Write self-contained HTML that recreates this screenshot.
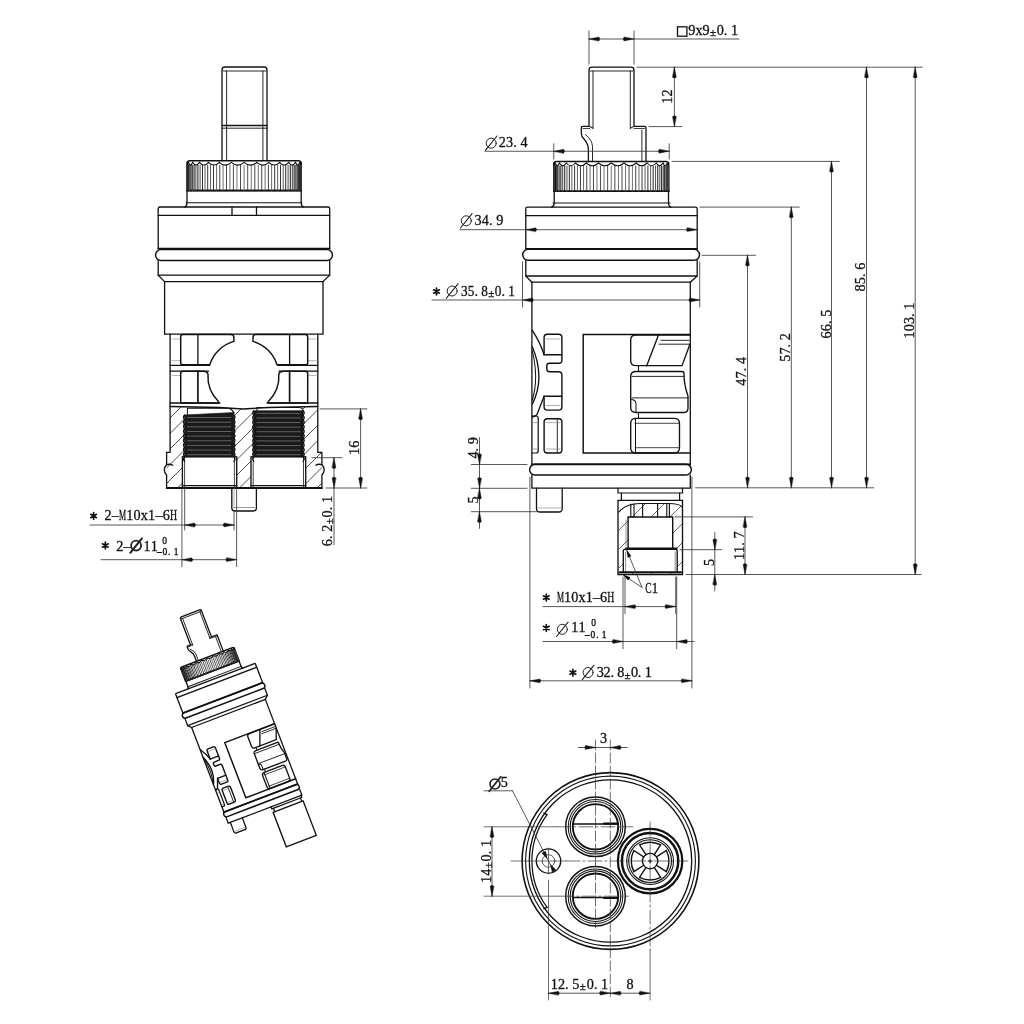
<!DOCTYPE html>
<html><head><meta charset="utf-8"><style>
html,body{margin:0;padding:0;background:#fff;}
svg{display:block;font-family:"Liberation Serif",serif;will-change:transform;}
#rv *,#spg *{vector-effect:non-scaling-stroke;}
</style></head><body>
<svg width="1024" height="1024" viewBox="0 0 1024 1024" fill="none" stroke="#111" stroke-width="1.3" stroke-linecap="round">
<rect x="0" y="0" width="1024" height="1024" fill="#fff" stroke="none"/>
<g id="lv">
<path d="M222 160V70Q222 67 225 67H264Q267 67 267 70V160"/>
<line x1="226.6" y1="71" x2="226.6" y2="160" stroke-width="0.9"/>
<line x1="262.9" y1="71" x2="262.9" y2="160" stroke-width="0.9"/>
<line x1="223" y1="71" x2="266" y2="71" stroke-width="0.9"/>
<line x1="222" y1="125.6" x2="267" y2="125.6" stroke-width="1.46"/>
<line x1="222" y1="128.2" x2="267" y2="128.2" stroke-width="0.9"/>
<path d="M187 190.6V163.8Q187 160.8 190 160.8H298.2Q301.2 160.8 301.2 163.8V190.6Z" stroke-width="1.46"/>
<line x1="187" y1="190.6" x2="301.2" y2="190.6" stroke-width="1.68"/>
<line x1="187.11" y1="165.3" x2="187.11" y2="190.6" stroke-width="1.22" stroke="#444"/>
<line x1="187.45" y1="165.3" x2="187.45" y2="190.6" stroke-width="1.19" stroke="#111"/>
<line x1="188.01" y1="165.3" x2="188.01" y2="190.6" stroke-width="1.16" stroke="#444"/>
<line x1="188.79" y1="165.3" x2="188.79" y2="190.6" stroke-width="1.13" stroke="#111"/>
<line x1="189.79" y1="165.3" x2="189.79" y2="190.6" stroke-width="1.1" stroke="#444"/>
<line x1="191.01" y1="165.3" x2="191.01" y2="190.6" stroke-width="1.07" stroke="#111"/>
<line x1="192.43" y1="165.3" x2="192.43" y2="190.6" stroke-width="1.04" stroke="#444"/>
<line x1="194.06" y1="165.3" x2="194.06" y2="190.6" stroke-width="1.01" stroke="#111"/>
<line x1="195.89" y1="165.3" x2="195.89" y2="190.6" stroke-width="0.98" stroke="#444"/>
<line x1="197.91" y1="165.3" x2="197.91" y2="190.6" stroke-width="0.96" stroke="#111"/>
<line x1="200.1" y1="165.3" x2="200.1" y2="190.6" stroke-width="0.93" stroke="#444"/>
<line x1="202.48" y1="165.3" x2="202.48" y2="190.6" stroke-width="0.91" stroke="#111"/>
<line x1="205.01" y1="165.3" x2="205.01" y2="190.6" stroke-width="0.89" stroke="#444"/>
<line x1="207.7" y1="165.3" x2="207.7" y2="190.6" stroke-width="0.86" stroke="#111"/>
<line x1="210.54" y1="165.3" x2="210.54" y2="190.6" stroke-width="0.85" stroke="#444"/>
<line x1="213.5" y1="165.3" x2="213.5" y2="190.6" stroke-width="0.83" stroke="#111"/>
<line x1="216.59" y1="165.3" x2="216.59" y2="190.6" stroke-width="0.81" stroke="#444"/>
<line x1="219.79" y1="165.3" x2="219.79" y2="190.6" stroke-width="0.8" stroke="#111"/>
<line x1="223.08" y1="165.3" x2="223.08" y2="190.6" stroke-width="0.79" stroke="#444"/>
<line x1="226.46" y1="165.3" x2="226.46" y2="190.6" stroke-width="0.77" stroke="#111"/>
<line x1="229.9" y1="165.3" x2="229.9" y2="190.6" stroke-width="0.77" stroke="#444"/>
<line x1="233.4" y1="165.3" x2="233.4" y2="190.6" stroke-width="0.76" stroke="#111"/>
<line x1="236.94" y1="165.3" x2="236.94" y2="190.6" stroke-width="0.75" stroke="#444"/>
<line x1="240.51" y1="165.3" x2="240.51" y2="190.6" stroke-width="0.75" stroke="#111"/>
<line x1="244.1" y1="165.3" x2="244.1" y2="190.6" stroke-width="0.75" stroke="#444"/>
<line x1="247.69" y1="165.3" x2="247.69" y2="190.6" stroke-width="0.75" stroke="#111"/>
<line x1="251.26" y1="165.3" x2="251.26" y2="190.6" stroke-width="0.75" stroke="#444"/>
<line x1="254.8" y1="165.3" x2="254.8" y2="190.6" stroke-width="0.76" stroke="#111"/>
<line x1="258.3" y1="165.3" x2="258.3" y2="190.6" stroke-width="0.77" stroke="#444"/>
<line x1="261.74" y1="165.3" x2="261.74" y2="190.6" stroke-width="0.77" stroke="#111"/>
<line x1="265.12" y1="165.3" x2="265.12" y2="190.6" stroke-width="0.79" stroke="#444"/>
<line x1="268.41" y1="165.3" x2="268.41" y2="190.6" stroke-width="0.8" stroke="#111"/>
<line x1="271.61" y1="165.3" x2="271.61" y2="190.6" stroke-width="0.81" stroke="#444"/>
<line x1="274.7" y1="165.3" x2="274.7" y2="190.6" stroke-width="0.83" stroke="#111"/>
<line x1="277.66" y1="165.3" x2="277.66" y2="190.6" stroke-width="0.85" stroke="#444"/>
<line x1="280.5" y1="165.3" x2="280.5" y2="190.6" stroke-width="0.86" stroke="#111"/>
<line x1="283.19" y1="165.3" x2="283.19" y2="190.6" stroke-width="0.89" stroke="#444"/>
<line x1="285.72" y1="165.3" x2="285.72" y2="190.6" stroke-width="0.91" stroke="#111"/>
<line x1="288.1" y1="165.3" x2="288.1" y2="190.6" stroke-width="0.93" stroke="#444"/>
<line x1="290.29" y1="165.3" x2="290.29" y2="190.6" stroke-width="0.96" stroke="#111"/>
<line x1="292.31" y1="165.3" x2="292.31" y2="190.6" stroke-width="0.98" stroke="#444"/>
<line x1="294.14" y1="165.3" x2="294.14" y2="190.6" stroke-width="1.01" stroke="#111"/>
<line x1="295.77" y1="165.3" x2="295.77" y2="190.6" stroke-width="1.04" stroke="#444"/>
<line x1="297.19" y1="165.3" x2="297.19" y2="190.6" stroke-width="1.07" stroke="#111"/>
<line x1="298.41" y1="165.3" x2="298.41" y2="190.6" stroke-width="1.1" stroke="#444"/>
<line x1="299.41" y1="165.3" x2="299.41" y2="190.6" stroke-width="1.13" stroke="#111"/>
<line x1="300.19" y1="165.3" x2="300.19" y2="190.6" stroke-width="1.16" stroke="#444"/>
<line x1="300.75" y1="165.3" x2="300.75" y2="190.6" stroke-width="1.19" stroke="#111"/>
<line x1="301.09" y1="165.3" x2="301.09" y2="190.6" stroke-width="1.22" stroke="#444"/>
<path d="M187 162.3Q187.72 167.8 188.43 162.3Q190.54 167.8 192.65 162.3Q196.06 167.8 199.46 162.3Q203.98 167.8 208.5 162.3Q213.91 167.8 219.33 162.3Q225.36 167.8 231.39 162.3Q237.75 167.8 244.1 162.3Q250.45 167.8 256.81 162.3Q262.84 167.8 268.87 162.3Q274.29 167.8 279.7 162.3Q284.22 167.8 288.74 162.3Q292.14 167.8 295.55 162.3Q297.66 167.8 299.77 162.3Q300.48 167.8 301.2 162.3" stroke-width="1.12"/>
<path d="M187 190.6V202.5Q187 206.2 184.8 207M301.2 190.6V202.5Q301.2 206.2 303.4 207"/>
<line x1="186" y1="202.7" x2="302" y2="202.7" stroke-width="1.01"/>
<path d="M158.2 248.5V208.5Q158.2 207 160 207H328Q329.7 207 329.7 208.5V248.5"/>
<line x1="158.2" y1="215.4" x2="329.7" y2="215.4"/>
<line x1="232" y1="207" x2="232" y2="215.4"/>
<line x1="256.5" y1="207" x2="256.5" y2="215.4"/>
<line x1="158.2" y1="248.5" x2="329.7" y2="248.5" stroke-width="1.68"/>
<path d="M161 249.6H327A5.45 5.45 0 0 1 327 260.5H161A5.45 5.45 0 0 1 161 249.6Z" stroke-width="1.46"/>
<path d="M158.2 260.5V275.2L164.6 281.6M329.7 260.5V275.2L322.9 281.6"/>
<line x1="158.2" y1="275.2" x2="329.7" y2="275.2"/>
<line x1="164.6" y1="281.6" x2="322.9" y2="281.6"/>
<path d="M164.6 281.6V334.1H323V281.6"/>
<line x1="170.1" y1="334.1" x2="170.1" y2="406.5"/>
<line x1="317.8" y1="334.1" x2="317.8" y2="406.5"/>
<line x1="170.1" y1="365.3" x2="209.5" y2="365.3"/>
<line x1="170.1" y1="371.2" x2="208.5" y2="371.2"/>
<line x1="278" y1="365.3" x2="317.8" y2="365.3"/>
<line x1="279" y1="371.2" x2="317.8" y2="371.2"/>
<line x1="172" y1="339" x2="180" y2="339" stroke-width="0.56" stroke="#777"/>
<line x1="172" y1="360.7" x2="180" y2="360.7" stroke-width="0.56" stroke="#777"/>
<line x1="172" y1="375.6" x2="180" y2="375.6" stroke-width="0.56" stroke="#777"/>
<line x1="308" y1="339" x2="316" y2="339" stroke-width="0.56" stroke="#777"/>
<line x1="308" y1="360.7" x2="316" y2="360.7" stroke-width="0.56" stroke="#777"/>
<line x1="308" y1="375.6" x2="316" y2="375.6" stroke-width="0.56" stroke="#777"/>
<path d="M180.7 363V337Q180.7 334.6 183 334.6H231Q233.9 334.6 233.9 337.5V341.4 A35.5 35.5 0 0 0 209.78 364.8 H183Q180.7 364.8 180.7 363Z" stroke-width="1.46"/>
<path d="M307.7 363V337Q307.7 334.6 305.4 334.6H255.8Q253 334.6 253 337.5V341.4 A35.5 35.5 0 0 1 277.02 364.8 H305.4Q307.7 364.8 307.7 363Z" stroke-width="1.46"/>
<path d="M180.7 373.5Q180.7 371.2 183 371.2H203Q206.97 371.2 207.97 374 A35.5 35.5 0 0 0 218.5 401.5 V403H180.7Z" stroke-width="1.46"/>
<path d="M307.7 373.5Q307.7 371.2 305.4 371.2H283.83 Q279.83 371.2 278.83 374 A35.5 35.5 0 0 1 268.3 401.5 V403H307.7Z" stroke-width="1.46"/>
<line x1="197.9" y1="334.6" x2="197.9" y2="364.8"/>
<line x1="197.9" y1="371.2" x2="197.9" y2="403" stroke-width="1.68"/>
<line x1="289.6" y1="334.6" x2="289.6" y2="364.8"/>
<line x1="289.6" y1="371.2" x2="289.6" y2="403" stroke-width="1.68"/>
<line x1="170.1" y1="403" x2="220" y2="403"/>
<line x1="267" y1="403" x2="317.8" y2="403"/>
<path d="M170.1 406.5L219 407.5L243.4 409L268 407.5L317.8 406.5"/>
<path d="M170.1 406.5V452.3H166.6V464.7A6.8 6.8 0 0 0 166.6 474.9V488H321.9V474.9A6.8 6.8 0 0 0 321.9 464.7V452.3H317.8V406.5"/>
<path d="M166.6 464.7Q170 463.5 172.7 465.2" stroke-width="1.34"/>
<path d="M321.9 464.7Q318.5 463.5 315.8 465.2" stroke-width="1.34"/>
<clipPath id="lvh"><path d="M170.1 406.5L219 407.5L243.4 409L268 407.5L317.8 406.5V452.3H321.9V488H166.6V452.3H170.1Z M184.6 415.7V456.8H182.4V488H236.7V456.8H233.9V408.2H184.6Z M253.8 410.8V456.8H251V488H305.7V456.8H303.1V407.5H253.8Z" clip-rule="evenodd"/></clipPath>
<g clip-path="url(#lvh)" stroke-width="0.75">
<line x1="-210" y1="488" x2="-120" y2="398"/>
<line x1="-194.5" y1="488" x2="-104.5" y2="398"/>
<line x1="-179" y1="488" x2="-89" y2="398"/>
<line x1="-163.5" y1="488" x2="-73.5" y2="398"/>
<line x1="-148" y1="488" x2="-58" y2="398"/>
<line x1="-132.5" y1="488" x2="-42.5" y2="398"/>
<line x1="-117" y1="488" x2="-27" y2="398"/>
<line x1="-101.5" y1="488" x2="-11.5" y2="398"/>
<line x1="-86" y1="488" x2="4" y2="398"/>
<line x1="-70.5" y1="488" x2="19.5" y2="398"/>
<line x1="-55" y1="488" x2="35" y2="398"/>
<line x1="-39.5" y1="488" x2="50.5" y2="398"/>
<line x1="-24" y1="488" x2="66" y2="398"/>
<line x1="-8.5" y1="488" x2="81.5" y2="398"/>
<line x1="7" y1="488" x2="97" y2="398"/>
<line x1="22.5" y1="488" x2="112.5" y2="398"/>
<line x1="38" y1="488" x2="128" y2="398"/>
<line x1="53.5" y1="488" x2="143.5" y2="398"/>
<line x1="69" y1="488" x2="159" y2="398"/>
<line x1="84.5" y1="488" x2="174.5" y2="398"/>
<line x1="100" y1="488" x2="190" y2="398"/>
<line x1="115.5" y1="488" x2="205.5" y2="398"/>
<line x1="131" y1="488" x2="221" y2="398"/>
<line x1="146.5" y1="488" x2="236.5" y2="398"/>
<line x1="162" y1="488" x2="252" y2="398"/>
<line x1="177.5" y1="488" x2="267.5" y2="398"/>
<line x1="193" y1="488" x2="283" y2="398"/>
<line x1="208.5" y1="488" x2="298.5" y2="398"/>
<line x1="224" y1="488" x2="314" y2="398"/>
<line x1="239.5" y1="488" x2="329.5" y2="398"/>
<line x1="255" y1="488" x2="345" y2="398"/>
<line x1="270.5" y1="488" x2="360.5" y2="398"/>
<line x1="286" y1="488" x2="376" y2="398"/>
<line x1="301.5" y1="488" x2="391.5" y2="398"/>
<line x1="317" y1="488" x2="407" y2="398"/>
<line x1="332.5" y1="488" x2="422.5" y2="398"/>
<line x1="348" y1="488" x2="438" y2="398"/>
<line x1="363.5" y1="488" x2="453.5" y2="398"/>
<line x1="379" y1="488" x2="469" y2="398"/>
<line x1="394.5" y1="488" x2="484.5" y2="398"/>
<line x1="410" y1="488" x2="500" y2="398"/>
<line x1="425.5" y1="488" x2="515.5" y2="398"/>
<line x1="441" y1="488" x2="531" y2="398"/>
<line x1="456.5" y1="488" x2="546.5" y2="398"/>
<line x1="472" y1="488" x2="562" y2="398"/>
<line x1="487.5" y1="488" x2="577.5" y2="398"/>
<line x1="503" y1="488" x2="593" y2="398"/>
<line x1="518.5" y1="488" x2="608.5" y2="398"/>
<line x1="534" y1="488" x2="624" y2="398"/>
<line x1="549.5" y1="488" x2="639.5" y2="398"/>
</g>
<g>
<path d="M184.6 415L233.9 412.6V456.8H184.6Z" stroke-width="0.67" fill="#1a1a1a"/>
<line x1="187.6" y1="417.55" x2="230.9" y2="417.55" stroke-width="0.78" stroke="#777"/>
<line x1="187.6" y1="422.2" x2="230.9" y2="422.2" stroke-width="0.78" stroke="#777"/>
<line x1="187.6" y1="426.84" x2="230.9" y2="426.84" stroke-width="0.78" stroke="#777"/>
<line x1="187.6" y1="431.49" x2="230.9" y2="431.49" stroke-width="0.78" stroke="#777"/>
<line x1="187.6" y1="436.13" x2="230.9" y2="436.13" stroke-width="0.78" stroke="#777"/>
<line x1="187.6" y1="440.78" x2="230.9" y2="440.78" stroke-width="0.78" stroke="#777"/>
<line x1="187.6" y1="445.42" x2="230.9" y2="445.42" stroke-width="0.78" stroke="#777"/>
<line x1="187.6" y1="450.07" x2="230.9" y2="450.07" stroke-width="0.78" stroke="#777"/>
<line x1="187.6" y1="454.71" x2="230.9" y2="454.71" stroke-width="0.78" stroke="#777"/>
<path d="M184.6 415Q182.4 417.32 184.6 419.64M233.9 415Q236.1 417.32 233.9 419.64M184.6 419.64Q182.4 421.97 184.6 424.29M233.9 419.64Q236.1 421.97 233.9 424.29M184.6 424.29Q182.4 426.61 184.6 428.93M233.9 424.29Q236.1 426.61 233.9 428.93M184.6 428.93Q182.4 431.26 184.6 433.58M233.9 428.93Q236.1 431.26 233.9 433.58M184.6 433.58Q182.4 435.9 184.6 438.22M233.9 433.58Q236.1 435.9 233.9 438.22M184.6 438.22Q182.4 440.54 184.6 442.87M233.9 438.22Q236.1 440.54 233.9 442.87M184.6 442.87Q182.4 445.19 184.6 447.51M233.9 442.87Q236.1 445.19 233.9 447.51M184.6 447.51Q182.4 449.83 184.6 452.16M233.9 447.51Q236.1 449.83 233.9 452.16M184.6 452.16Q182.4 454.48 184.6 456.8M233.9 452.16Q236.1 454.48 233.9 456.8M184.6 456.8Q182.4 459.12 184.6 461.44M233.9 456.8Q236.1 459.12 233.9 461.44" stroke-width="1.23" stroke="#111"/>
</g>
<g>
<path d="M253.8 410.8L303.1 410.8V456.8H253.8Z" stroke-width="0.67" fill="#1a1a1a"/>
<line x1="256.8" y1="413.33" x2="300.1" y2="413.33" stroke-width="0.78" stroke="#777"/>
<line x1="256.8" y1="417.93" x2="300.1" y2="417.93" stroke-width="0.78" stroke="#777"/>
<line x1="256.8" y1="422.53" x2="300.1" y2="422.53" stroke-width="0.78" stroke="#777"/>
<line x1="256.8" y1="427.13" x2="300.1" y2="427.13" stroke-width="0.78" stroke="#777"/>
<line x1="256.8" y1="431.73" x2="300.1" y2="431.73" stroke-width="0.78" stroke="#777"/>
<line x1="256.8" y1="436.33" x2="300.1" y2="436.33" stroke-width="0.78" stroke="#777"/>
<line x1="256.8" y1="440.93" x2="300.1" y2="440.93" stroke-width="0.78" stroke="#777"/>
<line x1="256.8" y1="445.53" x2="300.1" y2="445.53" stroke-width="0.78" stroke="#777"/>
<line x1="256.8" y1="450.13" x2="300.1" y2="450.13" stroke-width="0.78" stroke="#777"/>
<line x1="256.8" y1="454.73" x2="300.1" y2="454.73" stroke-width="0.78" stroke="#777"/>
<path d="M253.8 410.8Q251.6 413.1 253.8 415.4M303.1 410.8Q305.3 413.1 303.1 415.4M253.8 415.4Q251.6 417.7 253.8 420M303.1 415.4Q305.3 417.7 303.1 420M253.8 420Q251.6 422.3 253.8 424.6M303.1 420Q305.3 422.3 303.1 424.6M253.8 424.6Q251.6 426.9 253.8 429.2M303.1 424.6Q305.3 426.9 303.1 429.2M253.8 429.2Q251.6 431.5 253.8 433.8M303.1 429.2Q305.3 431.5 303.1 433.8M253.8 433.8Q251.6 436.1 253.8 438.4M303.1 433.8Q305.3 436.1 303.1 438.4M253.8 438.4Q251.6 440.7 253.8 443M303.1 438.4Q305.3 440.7 303.1 443M253.8 443Q251.6 445.3 253.8 447.6M303.1 443Q305.3 445.3 303.1 447.6M253.8 447.6Q251.6 449.9 253.8 452.2M303.1 447.6Q305.3 449.9 303.1 452.2M253.8 452.2Q251.6 454.5 253.8 456.8M303.1 452.2Q305.3 454.5 303.1 456.8M253.8 456.8Q251.6 459.1 253.8 461.4M303.1 456.8Q305.3 459.1 303.1 461.4" stroke-width="1.23" stroke="#111"/>
</g>
<path d="M187.4 415V408.3H229Q233 410 233.9 413" stroke-width="1.01"/>
<path d="M257 410.8V407.6H299Q303 408 303.1 411" stroke-width="1.01"/>
<rect x="182.4" y="456.8" width="54.3" height="31.2" rx="0" stroke-width="1.34"/>
<line x1="184.6" y1="456.8" x2="184.6" y2="488" stroke-width="0.78"/>
<line x1="234.4" y1="456.8" x2="234.4" y2="488" stroke-width="0.78"/>
<line x1="182.4" y1="485.6" x2="236.7" y2="485.6" stroke-width="1.34"/>
<rect x="251" y="456.8" width="54.7" height="31.2" rx="0" stroke-width="1.34"/>
<line x1="253.2" y1="456.8" x2="253.2" y2="488" stroke-width="0.78"/>
<line x1="303.5" y1="456.8" x2="303.5" y2="488" stroke-width="0.78"/>
<line x1="251" y1="485.6" x2="305.7" y2="485.6" stroke-width="1.34"/>
<line x1="166.6" y1="488" x2="321.9" y2="488" stroke-width="1.79"/>
<path d="M231.8 488V508Q231.8 511 235 511H253.2Q256.4 511 256.4 508V488"/>
<line x1="233.6" y1="507.5" x2="254.6" y2="507.5" stroke-width="0.67" stroke="#666"/>
<line x1="234" y1="488" x2="234" y2="508" stroke-width="0.56" stroke="#777"/>
</g>
<g stroke-width="0.85" stroke="#3a3a3a">
<line x1="320" y1="408.9" x2="366.9" y2="408.9"/>
<line x1="326" y1="488" x2="366.9" y2="488"/>
<line x1="360.6" y1="408.9" x2="360.6" y2="488"/>
<path d="M360.6 408.9L362.5 418.9Q360.6 420.7 358.7 418.9Z" fill="#111" stroke="#111" stroke-width="0.4"/>
<path d="M360.6 488L358.7 478Q360.6 476.2 362.5 478Z" fill="#111" stroke="#111" stroke-width="0.4"/>
<line x1="312" y1="457.7" x2="342" y2="457.7"/>
<line x1="334" y1="457.7" x2="334" y2="544.7"/>
<path d="M334 457.7L335.9 467.7Q334 469.5 332.1 467.7Z" fill="#111" stroke="#111" stroke-width="0.4"/>
<path d="M334 488L332.1 478Q334 476.2 335.9 478Z" fill="#111" stroke="#111" stroke-width="0.4"/>
<line x1="181.9" y1="488" x2="181.9" y2="566.6"/>
<line x1="184.7" y1="488" x2="184.7" y2="530"/>
<line x1="234" y1="511" x2="234" y2="530"/>
<line x1="236.6" y1="488" x2="236.6" y2="566.6"/>
<line x1="90" y1="525" x2="234" y2="525"/>
<path d="M184.7 525L194.7 523.1Q196.5 525 194.7 526.9Z" fill="#111" stroke="#111" stroke-width="0.4"/>
<path d="M234 525L224 526.9Q222.2 525 224 523.1Z" fill="#111" stroke="#111" stroke-width="0.4"/>
<line x1="101" y1="559.7" x2="236.6" y2="559.7"/>
<path d="M181.9 559.7L191.9 557.8Q193.7 559.7 191.9 561.6Z" fill="#111" stroke="#111" stroke-width="0.4"/>
<path d="M236.6 559.7L226.6 561.6Q224.8 559.7 226.6 557.8Z" fill="#111" stroke="#111" stroke-width="0.4"/>
</g>
<g fill="#111" stroke="#111" stroke-width="0.3">
<text x="-7.2 0" y="0" font-size="14.2" transform="translate(358.7 447.8) rotate(-90)">16</text>
<text x="0" y="0" font-size="11.08" transform="translate(331.8 521) rotate(-90) translate(-3.3 1.2)">±</text>
<text x="-25.2 -18 -10.8 3.6 10.8 18" y="0" font-size="14.2" transform="translate(331.8 521) rotate(-90)">6.20.1</text>
<text x="0" y="0" font-size="14.2" transform="translate(119.04 520.3) scale(0.564 1)">M</text>
<text x="0" y="0" font-size="14.2" transform="translate(169.93 520.3) scale(0.695 1)">H</text>
<text x="104.5 111.77 126.31 133.58 140.85 148.12 155.39 162.66" y="520.3" font-size="14.2">2–10x1–6</text>
<text x="116.25 123.45" y="550.8" font-size="14.2">2–</text>
<text x="143.6 150.8" y="550.8" font-size="14.2">11</text>
<text x="162.3" y="543.7" font-size="9.5">0</text>
<text x="156.9 162.5 168.1 173.7" y="554.7" font-size="9.5">–0.1</text>
</g>
<path d="M93.6 512.7L93.6 519.3M90.74 514.35L96.46 517.65M96.46 514.35L90.74 517.65" stroke-width="1.68" stroke="#111"/>
<path d="M105.3 542.2L105.3 548.8M102.44 543.85L108.16 547.15M108.16 543.85L102.44 547.15" stroke-width="1.68" stroke="#111"/>
<circle cx="136.1" cy="545.6" r="5" stroke-width="1.8" stroke="#222"/>
<line x1="130.3" y1="552.8" x2="141.9" y2="538.4" stroke-width="2.02" stroke="#222"/>
<g id="rv">
<path d="M588.4 161.5V150Q588.4 144 584 139Q581.3 136.5 581.3 133V127.5Q581.3 126.4 582.5 126.4H589V70Q589 67.2 592 67.2H631Q634 67.2 634 70V126.4H644.8Q646 126.4 646 127.5V161.5"/>
<path d="M585.4 134.6Q592.5 140 592.5 147V161.5" stroke-width="0.9"/>
<line x1="593" y1="71" x2="593" y2="128.2" stroke-width="0.9"/>
<line x1="630.3" y1="71" x2="630.3" y2="128.2" stroke-width="0.9"/>
<line x1="590" y1="71" x2="633" y2="71" stroke-width="0.9"/>
<line x1="641.9" y1="130" x2="641.9" y2="161.5" stroke-width="0.9"/>
<line x1="583" y1="128.5" x2="589.5" y2="128.5" stroke-width="0.78"/>
<line x1="589.5" y1="126.4" x2="593" y2="128.2" stroke-width="1.01"/>
<line x1="634" y1="128.5" x2="644.5" y2="128.5" stroke-width="0.78"/>
<line x1="630.3" y1="128.2" x2="634" y2="126.4" stroke-width="1.01"/>
<path d="M553.75 191.25V164.5Q553.75 161.5 556.75 161.5H665.75Q668.75 161.5 668.75 164.5V191.25Z" stroke-width="1.46"/>
<line x1="553.75" y1="191.25" x2="668.75" y2="191.25" stroke-width="1.68"/>
<line x1="553.86" y1="166" x2="553.86" y2="191.25" stroke-width="1.22" stroke="#444"/>
<line x1="554.2" y1="166" x2="554.2" y2="191.25" stroke-width="1.19" stroke="#111"/>
<line x1="554.77" y1="166" x2="554.77" y2="191.25" stroke-width="1.16" stroke="#444"/>
<line x1="555.56" y1="166" x2="555.56" y2="191.25" stroke-width="1.13" stroke="#111"/>
<line x1="556.56" y1="166" x2="556.56" y2="191.25" stroke-width="1.1" stroke="#444"/>
<line x1="557.79" y1="166" x2="557.79" y2="191.25" stroke-width="1.07" stroke="#111"/>
<line x1="559.22" y1="166" x2="559.22" y2="191.25" stroke-width="1.04" stroke="#444"/>
<line x1="560.86" y1="166" x2="560.86" y2="191.25" stroke-width="1.01" stroke="#111"/>
<line x1="562.7" y1="166" x2="562.7" y2="191.25" stroke-width="0.98" stroke="#444"/>
<line x1="564.73" y1="166" x2="564.73" y2="191.25" stroke-width="0.96" stroke="#111"/>
<line x1="566.95" y1="166" x2="566.95" y2="191.25" stroke-width="0.93" stroke="#444"/>
<line x1="569.33" y1="166" x2="569.33" y2="191.25" stroke-width="0.91" stroke="#111"/>
<line x1="571.89" y1="166" x2="571.89" y2="191.25" stroke-width="0.89" stroke="#444"/>
<line x1="574.6" y1="166" x2="574.6" y2="191.25" stroke-width="0.86" stroke="#111"/>
<line x1="577.45" y1="166" x2="577.45" y2="191.25" stroke-width="0.85" stroke="#444"/>
<line x1="580.44" y1="166" x2="580.44" y2="191.25" stroke-width="0.83" stroke="#111"/>
<line x1="583.55" y1="166" x2="583.55" y2="191.25" stroke-width="0.81" stroke="#444"/>
<line x1="586.77" y1="166" x2="586.77" y2="191.25" stroke-width="0.8" stroke="#111"/>
<line x1="590.08" y1="166" x2="590.08" y2="191.25" stroke-width="0.79" stroke="#444"/>
<line x1="593.48" y1="166" x2="593.48" y2="191.25" stroke-width="0.77" stroke="#111"/>
<line x1="596.95" y1="166" x2="596.95" y2="191.25" stroke-width="0.77" stroke="#444"/>
<line x1="600.48" y1="166" x2="600.48" y2="191.25" stroke-width="0.76" stroke="#111"/>
<line x1="604.04" y1="166" x2="604.04" y2="191.25" stroke-width="0.75" stroke="#444"/>
<line x1="607.64" y1="166" x2="607.64" y2="191.25" stroke-width="0.75" stroke="#111"/>
<line x1="611.25" y1="166" x2="611.25" y2="191.25" stroke-width="0.75" stroke="#444"/>
<line x1="614.86" y1="166" x2="614.86" y2="191.25" stroke-width="0.75" stroke="#111"/>
<line x1="618.46" y1="166" x2="618.46" y2="191.25" stroke-width="0.75" stroke="#444"/>
<line x1="622.02" y1="166" x2="622.02" y2="191.25" stroke-width="0.76" stroke="#111"/>
<line x1="625.55" y1="166" x2="625.55" y2="191.25" stroke-width="0.77" stroke="#444"/>
<line x1="629.02" y1="166" x2="629.02" y2="191.25" stroke-width="0.77" stroke="#111"/>
<line x1="632.42" y1="166" x2="632.42" y2="191.25" stroke-width="0.79" stroke="#444"/>
<line x1="635.73" y1="166" x2="635.73" y2="191.25" stroke-width="0.8" stroke="#111"/>
<line x1="638.95" y1="166" x2="638.95" y2="191.25" stroke-width="0.81" stroke="#444"/>
<line x1="642.06" y1="166" x2="642.06" y2="191.25" stroke-width="0.83" stroke="#111"/>
<line x1="645.05" y1="166" x2="645.05" y2="191.25" stroke-width="0.85" stroke="#444"/>
<line x1="647.9" y1="166" x2="647.9" y2="191.25" stroke-width="0.86" stroke="#111"/>
<line x1="650.61" y1="166" x2="650.61" y2="191.25" stroke-width="0.89" stroke="#444"/>
<line x1="653.17" y1="166" x2="653.17" y2="191.25" stroke-width="0.91" stroke="#111"/>
<line x1="655.55" y1="166" x2="655.55" y2="191.25" stroke-width="0.93" stroke="#444"/>
<line x1="657.77" y1="166" x2="657.77" y2="191.25" stroke-width="0.96" stroke="#111"/>
<line x1="659.8" y1="166" x2="659.8" y2="191.25" stroke-width="0.98" stroke="#444"/>
<line x1="661.64" y1="166" x2="661.64" y2="191.25" stroke-width="1.01" stroke="#111"/>
<line x1="663.28" y1="166" x2="663.28" y2="191.25" stroke-width="1.04" stroke="#444"/>
<line x1="664.71" y1="166" x2="664.71" y2="191.25" stroke-width="1.07" stroke="#111"/>
<line x1="665.94" y1="166" x2="665.94" y2="191.25" stroke-width="1.1" stroke="#444"/>
<line x1="666.94" y1="166" x2="666.94" y2="191.25" stroke-width="1.13" stroke="#111"/>
<line x1="667.73" y1="166" x2="667.73" y2="191.25" stroke-width="1.16" stroke="#444"/>
<line x1="668.3" y1="166" x2="668.3" y2="191.25" stroke-width="1.19" stroke="#111"/>
<line x1="668.64" y1="166" x2="668.64" y2="191.25" stroke-width="1.22" stroke="#444"/>
<path d="M553.75 163Q554.47 168.5 555.19 163Q557.32 168.5 559.44 163Q562.87 168.5 566.29 163Q570.85 168.5 575.4 163Q580.85 168.5 586.3 163Q592.38 168.5 598.46 163Q604.85 168.5 611.25 163Q617.65 168.5 624.04 163Q630.12 168.5 636.2 163Q641.65 168.5 647.1 163Q651.65 168.5 656.21 163Q659.63 168.5 663.06 163Q665.18 168.5 667.31 163Q668.03 168.5 668.75 163" stroke-width="1.12"/>
<path d="M554.2 191.25V202.5Q554.2 206.4 551.8 207.2M668.5 191.25V202.5Q668.5 206.4 670.9 207.2"/>
<line x1="553" y1="203" x2="670" y2="203" stroke-width="1.01"/>
<path d="M525.8 248.75V208.7Q525.8 207.2 527.5 207.2H695.5Q697.2 207.2 697.2 208.7V248.75"/>
<line x1="525.8" y1="215.6" x2="697.2" y2="215.6"/>
<line x1="525.8" y1="248.75" x2="697.2" y2="248.75" stroke-width="1.68"/>
<path d="M528.2 249.3H694A5.5 5.5 0 0 1 694 260.3H528.2A5.5 5.5 0 0 1 528.2 249.3Z" stroke-width="1.46"/>
<path d="M525.8 260.3V276L531.9 282.2M697.2 260.3V276L690.3 282.2"/>
<line x1="525.8" y1="276" x2="697.2" y2="276"/>
<line x1="531.9" y1="282.2" x2="690.3" y2="282.2"/>
<line x1="531.9" y1="282.2" x2="531.9" y2="464.3"/>
<line x1="690.3" y1="282.2" x2="690.3" y2="464.3"/>
<path d="M690.3 334.4H583.2V453H690.3" stroke-width="1.46"/>
<path d="M690 335H636Q630.7 335 630.7 340V360.5Q630.7 365.7 636 365.7H682L690 344" stroke-width="1.34"/>
<path d="M658.4 335.3L646.7 365.7" stroke-width="1.34"/>
<line x1="661" y1="340.3" x2="689" y2="340.3" stroke-width="0.9"/>
<line x1="659" y1="344.2" x2="689" y2="344.2" stroke-width="0.9"/>
<path d="M636 371.5H682Q684 371.5 684 374Q684 385 688 396V408Q688 412.5 684 412.5H636Q630.7 412.5 630.7 407.5V376.5Q630.7 371.5 636 371.5Z" stroke-width="1.34"/>
<line x1="632" y1="376.4" x2="684" y2="376.4" stroke-width="0.9"/>
<line x1="632" y1="397.9" x2="688" y2="397.9" stroke-width="0.9"/>
<path d="M630.7 399.5Q636 399.5 636 404V412" stroke-width="1.01"/>
<path d="M636 418.4H674Q679.5 418.4 679.5 423.5V448Q679.5 453 674 453H636Q630.7 453 630.7 448V423.5Q630.7 418.4 636 418.4Z" stroke-width="1.34"/>
<line x1="635" y1="423.3" x2="679" y2="423.3" stroke-width="0.78"/>
<line x1="635" y1="447.7" x2="679" y2="447.7" stroke-width="0.78"/>
<line x1="635.5" y1="419" x2="635.5" y2="452" stroke-width="1.01"/>
<line x1="638.5" y1="365.7" x2="638.5" y2="371.5" stroke-width="1.01"/>
<line x1="638.5" y1="412.5" x2="638.5" y2="418.4" stroke-width="1.01"/>
<path d="M544.1 354.7V337.5Q544.1 334.2 547.4 334.2H558.6Q561.9 334.2 561.9 337.5V360Q561.9 363.3 558.6 363.3H549.5Q546.8 363.3 546.8 366V369.1Q546.8 371.8 549.5 371.8H558.6Q561.9 371.8 561.9 375V407Q561.9 410.1 558.6 410.1H547.4Q544.1 410.1 544.1 407V396.2" stroke-width="1.4"/>
<line x1="544.1" y1="354.7" x2="561.9" y2="354.7" stroke-width="1.4"/>
<line x1="544.1" y1="396.2" x2="561.9" y2="396.2" stroke-width="1.4"/>
<path d="M532.3 330.3Q540 342 544.1 354.7" stroke-width="1.34"/>
<path d="M544.1 396.2L536.9 414.7Q535 416.5 532.3 417" stroke-width="1.34"/>
<line x1="546" y1="339" x2="560" y2="339" stroke-width="0.67" stroke="#888"/>
<line x1="546" y1="405.5" x2="560" y2="405.5" stroke-width="0.67" stroke="#888"/>
<path d="M532.3 346.8Q545.5 378 532.3 404.2" stroke-width="1.34"/>
<path d="M532.3 351Q539 378 532.3 400" stroke-width="1.01"/>
<path d="M532.3 416H536Q538.2 416 538.2 418V451Q538.2 453 536 453H532.3" stroke-width="1.23"/>
<line x1="532.5" y1="422.6" x2="538" y2="422.6" stroke-width="0.67" stroke="#777"/>
<line x1="532.5" y1="449" x2="538" y2="449" stroke-width="0.67" stroke="#777"/>
<rect x="544.1" y="418.7" width="17.8" height="34.3" rx="3.2" stroke-width="1.4"/>
<line x1="557.3" y1="419.5" x2="557.3" y2="452.5" stroke-width="0.9"/>
<line x1="546" y1="422.6" x2="560" y2="422.6" stroke-width="0.67" stroke="#888"/>
<line x1="546" y1="449" x2="560" y2="449" stroke-width="0.67" stroke="#888"/>
<line x1="531.9" y1="464.3" x2="690.3" y2="464.3" stroke-width="1.68"/>
<path d="M535 464.3H686A5.35 5.35 0 0 1 686 475H535A5.35 5.35 0 0 1 535 464.3Z" stroke-width="1.46"/>
<path d="M531.9 475V488.1H690.3V475"/>
<path d="M536.5 488.1V508.5Q536.5 512 540 512H558.7Q562.2 512 562.2 508.5V488.1"/>
<line x1="538" y1="508" x2="561" y2="508" stroke-width="0.56" stroke="#777"/>
</g>
<g id="spg">
<path d="M618 488.1V493H682.5V488.1" stroke-width="1.23"/>
<path d="M621.4 493V500.3M679.6 493V500.3" stroke-width="1.23"/>
<path d="M618 500.3H682.5V574.5H618Z" stroke-width="1.34"/>
</g>
<clipPath id="sph"><path d="M618.8 512Q625 504 640 503.5H668Q680 503.5 682 507V574H618.8Z M628.1 517H672.7V548H677.2V572H623.3V548H628.1Z" clip-rule="evenodd"/></clipPath>
<g clip-path="url(#sph)" stroke-width="0.75" stroke="#333">
<line x1="600" y1="530" x2="700" y2="430"/>
<line x1="600" y1="549" x2="700" y2="449"/>
<line x1="600" y1="568" x2="700" y2="468"/>
<line x1="600" y1="587" x2="700" y2="487"/>
<line x1="600" y1="606" x2="700" y2="506"/>
<line x1="600" y1="625" x2="700" y2="525"/>
<line x1="600" y1="644" x2="700" y2="544"/>
<line x1="600" y1="663" x2="700" y2="563"/>
</g>
<path d="M619 512Q625 504 640 503.5H668Q680 503.5 682 507" stroke-width="1.12"/>
<line x1="630.8" y1="504" x2="630.8" y2="517" stroke-width="1.12"/>
<line x1="634" y1="504" x2="634" y2="517" stroke-width="1.12"/>
<line x1="642.6" y1="504" x2="642.6" y2="517" stroke-width="1.12"/>
<line x1="657.6" y1="504" x2="657.6" y2="517" stroke-width="1.12"/>
<line x1="666.8" y1="504" x2="666.8" y2="517" stroke-width="1.12"/>
<line x1="669.4" y1="504" x2="669.4" y2="517" stroke-width="1.12"/>
<path d="M628.1 548V517H672.7V548" stroke-width="1.4"/>
<line x1="626" y1="548.6" x2="676.5" y2="548.6" stroke-width="2.24"/>
<path d="M623.3 572V550.5Q623.3 549.3 625 549.3H675.5Q677.2 549.3 677.2 550.5V572" stroke-width="1.34"/>
<line x1="625.6" y1="552" x2="625.6" y2="571" stroke-width="0.67" stroke="#555"/>
<line x1="675.2" y1="552" x2="675.2" y2="571" stroke-width="0.67" stroke="#555"/>
<line x1="626" y1="520" x2="626" y2="546" stroke-width="0.67" stroke="#666"/>
<line x1="619.5" y1="572.3" x2="681" y2="572.3" stroke-width="2.02"/>
<g stroke-width="0.85" stroke="#3a3a3a">
<line x1="589" y1="31" x2="589" y2="64"/>
<line x1="634" y1="31" x2="634" y2="64"/>
<line x1="589" y1="39" x2="739" y2="39"/>
<path d="M589 39L599 37.1Q600.8 39 599 40.9Z" fill="#111" stroke="#111" stroke-width="0.4"/>
<path d="M634 39L624 40.9Q622.2 39 624 37.1Z" fill="#111" stroke="#111" stroke-width="0.4"/>
<line x1="637" y1="67.2" x2="922.3" y2="67.2"/>
<line x1="649" y1="126.6" x2="682" y2="126.6"/>
<line x1="674.4" y1="67.2" x2="674.4" y2="126.6"/>
<path d="M674.4 67.2L676.3 77.2Q674.4 79 672.5 77.2Z" fill="#111" stroke="#111" stroke-width="0.4"/>
<path d="M674.4 126.6L672.5 116.6Q674.4 114.8 676.3 116.6Z" fill="#111" stroke="#111" stroke-width="0.4"/>
<line x1="553.75" y1="143.75" x2="553.75" y2="159"/>
<line x1="669.2" y1="143.75" x2="669.2" y2="159"/>
<line x1="485" y1="151.25" x2="669.2" y2="151.25"/>
<path d="M553.75 151.25L563.75 149.35Q565.55 151.25 563.75 153.15Z" fill="#111" stroke="#111" stroke-width="0.4"/>
<path d="M669.2 151.25L659.2 153.15Q657.4 151.25 659.2 149.35Z" fill="#111" stroke="#111" stroke-width="0.4"/>
<line x1="672" y1="161.4" x2="839.3" y2="161.4"/>
<line x1="460" y1="229.7" x2="697.2" y2="229.7"/>
<path d="M525.8 229.7L535.8 227.8Q537.6 229.7 535.8 231.6Z" fill="#111" stroke="#111" stroke-width="0.4"/>
<path d="M697.2 229.7L687.2 231.6Q685.4 229.7 687.2 227.8Z" fill="#111" stroke="#111" stroke-width="0.4"/>
<line x1="700" y1="207.1" x2="799.2" y2="207.1"/>
<line x1="702" y1="255.3" x2="755.5" y2="255.3"/>
<line x1="432" y1="300" x2="699.7" y2="300"/>
<path d="M522.5 300L532.5 298.1Q534.3 300 532.5 301.9Z" fill="#111" stroke="#111" stroke-width="0.4"/>
<path d="M699.7 300L689.7 301.9Q687.9 300 689.7 298.1Z" fill="#111" stroke="#111" stroke-width="0.4"/>
<line x1="522.5" y1="262" x2="522.5" y2="307"/>
<line x1="699.7" y1="262" x2="699.7" y2="307"/>
<line x1="747.5" y1="255.3" x2="747.5" y2="487.8"/>
<path d="M747.5 255.3L749.4 265.3Q747.5 267.1 745.6 265.3Z" fill="#111" stroke="#111" stroke-width="0.4"/>
<path d="M747.5 487.8L745.6 477.8Q747.5 476 749.4 477.8Z" fill="#111" stroke="#111" stroke-width="0.4"/>
<line x1="791.3" y1="207.1" x2="791.3" y2="487.8"/>
<path d="M791.3 207.1L793.2 217.1Q791.3 218.9 789.4 217.1Z" fill="#111" stroke="#111" stroke-width="0.4"/>
<path d="M791.3 487.8L789.4 477.8Q791.3 476 793.2 477.8Z" fill="#111" stroke="#111" stroke-width="0.4"/>
<line x1="831.5" y1="161.4" x2="831.5" y2="487.8"/>
<path d="M831.5 161.4L833.4 171.4Q831.5 173.2 829.6 171.4Z" fill="#111" stroke="#111" stroke-width="0.4"/>
<path d="M831.5 487.8L829.6 477.8Q831.5 476 833.4 477.8Z" fill="#111" stroke="#111" stroke-width="0.4"/>
<line x1="866.5" y1="67.2" x2="866.5" y2="487.8"/>
<path d="M866.5 67.2L868.4 77.2Q866.5 79 864.6 77.2Z" fill="#111" stroke="#111" stroke-width="0.4"/>
<path d="M866.5 487.8L864.6 477.8Q866.5 476 868.4 477.8Z" fill="#111" stroke="#111" stroke-width="0.4"/>
<line x1="915.2" y1="67.2" x2="915.2" y2="574.5"/>
<path d="M915.2 67.2L917.1 77.2Q915.2 79 913.3 77.2Z" fill="#111" stroke="#111" stroke-width="0.4"/>
<path d="M915.2 574.5L913.3 564.5Q915.2 562.7 917.1 564.5Z" fill="#111" stroke="#111" stroke-width="0.4"/>
<line x1="695.6" y1="487.8" x2="873.75" y2="487.8"/>
<line x1="686" y1="574.5" x2="921.25" y2="574.5"/>
<line x1="675" y1="516.9" x2="752.5" y2="516.9"/>
<line x1="745" y1="516.9" x2="745" y2="574.5"/>
<path d="M745 516.9L746.9 526.9Q745 528.7 743.1 526.9Z" fill="#111" stroke="#111" stroke-width="0.4"/>
<path d="M745 574.5L743.1 564.5Q745 562.7 746.9 564.5Z" fill="#111" stroke="#111" stroke-width="0.4"/>
<line x1="680" y1="549.7" x2="721.6" y2="549.7"/>
<line x1="714.8" y1="532.5" x2="714.8" y2="591"/>
<path d="M714.8 549.7L712.9 539.7Q714.8 537.9 716.7 539.7Z" fill="#111" stroke="#111" stroke-width="0.4"/>
<path d="M714.8 574.5L716.7 584.5Q714.8 586.3 712.9 584.5Z" fill="#111" stroke="#111" stroke-width="0.4"/>
<line x1="471.3" y1="464.5" x2="527" y2="464.5"/>
<line x1="471.3" y1="488.3" x2="527" y2="488.3"/>
<line x1="471.3" y1="511.7" x2="537" y2="511.7"/>
<line x1="479.5" y1="437.6" x2="479.5" y2="528.4"/>
<path d="M479.5 464.5L477.6 454.5Q479.5 452.7 481.4 454.5Z" fill="#111" stroke="#111" stroke-width="0.4"/>
<path d="M479.5 488.3L481.4 498.3Q479.5 500.1 477.6 498.3Z" fill="#111" stroke="#111" stroke-width="0.4"/>
<path d="M479.5 488.3L477.6 478.3Q479.5 476.5 481.4 478.3Z" fill="#111" stroke="#111" stroke-width="0.4"/>
<path d="M479.5 511.7L481.4 521.7Q479.5 523.5 477.6 521.7Z" fill="#111" stroke="#111" stroke-width="0.4"/>
<line x1="642" y1="587.4" x2="626.5" y2="549.5"/>
<line x1="642" y1="587.4" x2="622.7" y2="574.5"/>
<line x1="625" y1="577" x2="625" y2="613.5"/>
<line x1="675.7" y1="577" x2="675.7" y2="613.5"/>
<line x1="543" y1="606.6" x2="675.7" y2="606.6"/>
<path d="M625 606.6L635 604.7Q636.8 606.6 635 608.5Z" fill="#111" stroke="#111" stroke-width="0.4"/>
<path d="M675.7 606.6L665.7 608.5Q663.9 606.6 665.7 604.7Z" fill="#111" stroke="#111" stroke-width="0.4"/>
<line x1="623" y1="577" x2="623" y2="648.7"/>
<line x1="676.7" y1="577" x2="676.7" y2="648.7"/>
<line x1="543" y1="641.5" x2="694" y2="641.5"/>
<path d="M623 641.5L613 643.4Q611.2 641.5 613 639.6Z" fill="#111" stroke="#111" stroke-width="0.4"/>
<path d="M676.7 641.5L686.7 639.6Q688.5 641.5 686.7 643.4Z" fill="#111" stroke="#111" stroke-width="0.4"/>
<line x1="529.9" y1="477" x2="529.9" y2="688"/>
<line x1="691.9" y1="477" x2="691.9" y2="688"/>
<line x1="529.9" y1="680.8" x2="691.9" y2="680.8"/>
<path d="M529.9 680.8L539.9 678.9Q541.7 680.8 539.9 682.7Z" fill="#111" stroke="#111" stroke-width="0.4"/>
<path d="M691.9 680.8L681.9 682.7Q680.1 680.8 681.9 678.9Z" fill="#111" stroke="#111" stroke-width="0.4"/>
</g>
<g fill="#111" stroke="#111" stroke-width="0.3">
<text x="0" y="0" font-size="11.08" transform="translate(709.9 35.7)">±</text>
<text x="688.3 695.4 702.5 716.7 723.8 730.9" y="34.5" font-size="14.2">9x90.1</text>
<text x="-7.2 0" y="0" font-size="14.2" transform="translate(672.3 96.6) rotate(-90)">12</text>
<text x="498.8 506 513.2 520.4" y="147" font-size="14.2">23.4</text>
<text x="474.6 481.8 489 496.2" y="225.4" font-size="14.2">34.9</text>
<text x="0" y="0" font-size="14.2" transform="translate(461 295.6) scale(0.932 1)">3</text>
<text x="0" y="0" font-size="14.2" transform="translate(467.75 295.6) scale(0.932 1)">5</text>
<text x="0" y="0" font-size="14.2" transform="translate(481.25 295.6) scale(0.932 1)">8</text>
<text x="0" y="0" font-size="11.08" transform="translate(488.3 296.8)">±</text>
<text x="0" y="0" font-size="14.2" transform="translate(494.75 295.6) scale(0.932 1)">0</text>
<text x="0" y="0" font-size="14.2" transform="translate(508.25 295.6) scale(0.932 1)">1</text>
<text x="474.5 501.5" y="295.6" font-size="14.2">..</text>
<text x="-14.4 -7.2 0 7.2" y="0" font-size="14.2" transform="translate(745.8 371.3) rotate(-90)">47.4</text>
<text x="-14.4 -7.2 0 7.2" y="0" font-size="14.2" transform="translate(789.8 347.4) rotate(-90)">57.2</text>
<text x="-14.4 -7.2 0 7.2" y="0" font-size="14.2" transform="translate(830.7 324) rotate(-90)">66.5</text>
<text x="-14.4 -7.2 0 7.2" y="0" font-size="14.2" transform="translate(865 277) rotate(-90)">85.6</text>
<text x="-18 -10.8 -3.6 3.6 10.8" y="0" font-size="14.2" transform="translate(913.8 320.5) rotate(-90)">103.1</text>
<text x="-14.4 -7.2 0 7.2" y="0" font-size="14.2" transform="translate(744.2 545.7) rotate(-90)">11.7</text>
<text x="-3.6" y="0" font-size="14.2" transform="translate(713.8 562.3) rotate(-90)">5</text>
<text x="-10.8 -3.6 3.6" y="0" font-size="14.2" transform="translate(477.5 447.8) rotate(-90)">4.9</text>
<text x="-3.6" y="0" font-size="14.2" transform="translate(477.5 499.9) rotate(-90)">5</text>
<text x="0" y="0" font-size="14.2" transform="translate(645.2 593.4) scale(0.673 1)">C</text>
<text x="0" y="0" font-size="14.2" transform="translate(651.7 593.4) scale(0.897 1)">1</text>
<text x="0" y="0" font-size="14.2" transform="translate(556.9 602.3) scale(0.559 1)">M</text>
<text x="0" y="0" font-size="14.2" transform="translate(607.3 602.3) scale(0.688 1)">H</text>
<text x="564.1 571.3 578.5 585.7 592.9 600.1" y="602.3" font-size="14.2">10x1–6</text>
<text x="571.25 578.45" y="632" font-size="14.2">11</text>
<text x="591.25" y="625.8" font-size="9.5">0</text>
<text x="585 590.6 596.2 601.8" y="637.5" font-size="9.5">–0.1</text>
<text x="0" y="0" font-size="11.08" transform="translate(624.4 678.5)">±</text>
<text x="596.7 603.55 610.4 617.25 630.95 637.8 644.65" y="677.3" font-size="14.2">32.80.1</text>
<text x="600" y="743" font-size="14.2">3</text>
<text x="500.8" y="787.2" font-size="14.2">5</text>
<text x="0" y="0" font-size="11.08" transform="translate(491.2 861.4) rotate(-90) translate(-6.9 1.2)">±</text>
<text x="-21.6 -14.4 0 7.2 14.4" y="0" font-size="14.2" transform="translate(491.2 861.4) rotate(-90)">140.1</text>
<text x="0" y="0" font-size="11.08" transform="translate(579.8 990.2)">±</text>
<text x="550.7 557.9 565.1 572.3 586.7 593.9 601.1" y="989" font-size="14.2">12.50.1</text>
<text x="626.5" y="989" font-size="14.2">8</text>
</g>
<rect x="677.5" y="26.8" width="9.4" height="9.4" stroke-width="1.3"/>
<path d="M436.5 288.2L436.5 294.8M433.64 289.85L439.36 293.15M439.36 289.85L433.64 293.15" stroke-width="1.68" stroke="#111"/>
<path d="M546.3 594.2L546.3 600.8M543.44 595.85L549.16 599.15M549.16 595.85L543.44 599.15" stroke-width="1.68" stroke="#111"/>
<path d="M546.3 624.7L546.3 631.3M543.44 626.35L549.16 629.65M549.16 626.35L543.44 629.65" stroke-width="1.68" stroke="#111"/>
<path d="M572.9 669.4L572.9 676M570.04 671.05L575.76 674.35M575.76 671.05L570.04 674.35" stroke-width="1.68" stroke="#111"/>
<circle cx="491.2" cy="143.2" r="5" stroke-width="1" stroke="#222"/>
<line x1="485.4" y1="150.4" x2="497" y2="136" stroke-width="1.12" stroke="#222"/>
<circle cx="466.3" cy="220.8" r="5" stroke-width="1" stroke="#222"/>
<line x1="460.5" y1="228" x2="472.1" y2="213.6" stroke-width="1.12" stroke="#222"/>
<circle cx="452.2" cy="291" r="5" stroke-width="1" stroke="#222"/>
<line x1="446.4" y1="298.2" x2="458" y2="283.8" stroke-width="1.12" stroke="#222"/>
<circle cx="562.3" cy="629.3" r="5" stroke-width="1" stroke="#222"/>
<line x1="556.5" y1="636.5" x2="568.1" y2="622.1" stroke-width="1.12" stroke="#222"/>
<circle cx="588.1" cy="672.5" r="5" stroke-width="1" stroke="#222"/>
<line x1="582.3" y1="679.7" x2="593.9" y2="665.3" stroke-width="1.12" stroke="#222"/>
<circle cx="495" cy="784" r="5" stroke-width="1.6" stroke="#222"/>
<line x1="489.2" y1="791.2" x2="500.8" y2="776.8" stroke-width="1.79" stroke="#222"/>
<use href="#rv" transform="translate(175.5 693.7) rotate(-20.9) scale(0.4977) translate(-525.8 -207.2)"/>
<use href="#spg" transform="translate(178.2 692.4) rotate(-20.9) scale(0.4977) translate(-525.8 -207.2)"/>
<g>
<circle cx="610.5" cy="861" r="88.4" stroke-width="1.57"/>
<circle cx="610.5" cy="861" r="84.9" stroke-width="1.12"/>
<circle cx="610.5" cy="861" r="81.2" stroke-width="1.34"/>
<path d="M547.06 814.6A78.6 78.6 0 0 0 547.06 907.4" stroke-width="1.23"/>
<path d="M547.06 814.6L543.86 813.1M547.06 907.4L543.86 908.9" stroke-width="1.23"/>
<circle cx="595.5" cy="826.8" r="29.8" stroke-width="1.46"/>
<circle cx="595.5" cy="826.8" r="27.3" stroke-width="1.01"/>
<circle cx="595.5" cy="826.8" r="25.3" stroke-width="1.12"/>
<circle cx="595.5" cy="826.8" r="22.7" stroke-width="1.9"/>
<circle cx="595.5" cy="896.2" r="29.8" stroke-width="1.46"/>
<circle cx="595.5" cy="896.2" r="27.3" stroke-width="1.01"/>
<circle cx="595.5" cy="896.2" r="25.3" stroke-width="1.12"/>
<circle cx="595.5" cy="896.2" r="22.7" stroke-width="1.9"/>
<line x1="572.8" y1="824" x2="617.5" y2="824" stroke-width="1.46"/>
<line x1="604" y1="823.6" x2="617" y2="823.6" stroke-width="2.24"/>
<line x1="573.5" y1="897.6" x2="617.5" y2="897.6" stroke-width="1.46"/>
<line x1="604" y1="898" x2="617" y2="898" stroke-width="2.24"/>
<circle cx="650.1" cy="861.1" r="32.2" stroke-width="2.24"/>
<circle cx="650.1" cy="861.1" r="28.2" stroke-width="2.46"/>
<circle cx="650.1" cy="861.1" r="23.4" stroke-width="1.12"/>
<circle cx="650.1" cy="861.1" r="21.4" stroke-width="1.12"/>
<path d="M645.96 854.73L639.53 844.83A24 24 0 0 1 660.67 844.83L654.24 854.73A7.6 7.6 0 0 0 645.96 854.73Z" stroke-width="1.4"/>
<path d="M654.24 854.73A7.6 7.6 0 0 1 656.47 856.96" stroke-width="1.18"/>
<path d="M656.47 856.96L666.37 850.53A24 24 0 0 1 666.37 871.67L656.47 865.24A7.6 7.6 0 0 0 656.47 856.96Z" stroke-width="1.4"/>
<path d="M656.47 865.24A7.6 7.6 0 0 1 654.24 867.47" stroke-width="1.18"/>
<path d="M654.24 867.47L660.67 877.37A24 24 0 0 1 639.53 877.37L645.96 867.47A7.6 7.6 0 0 0 654.24 867.47Z" stroke-width="1.4"/>
<path d="M645.96 867.47A7.6 7.6 0 0 1 643.73 865.24" stroke-width="1.18"/>
<path d="M643.73 865.24L633.83 871.67A24 24 0 0 1 633.83 850.53L643.73 856.96A7.6 7.6 0 0 0 643.73 865.24Z" stroke-width="1.4"/>
<path d="M643.73 856.96A7.6 7.6 0 0 1 645.96 854.73" stroke-width="1.18"/>
<line x1="648.1" y1="861.1" x2="652.1" y2="861.1" stroke-width="1.01"/>
<line x1="650.1" y1="859.1" x2="650.1" y2="863.1" stroke-width="1.01"/>
<circle cx="548.5" cy="861" r="12.2" stroke-width="1.34"/>
<circle cx="548.5" cy="861" r="6.3" stroke-width="0.67"/>
</g>
<g stroke-width="0.7" stroke="#333">
<line x1="511" y1="861" x2="566" y2="861"/>
<line x1="566" y1="861" x2="688" y2="861" stroke-dasharray="14 3 2 3"/>
<line x1="484" y1="826.8" x2="557" y2="826.8"/>
<line x1="557" y1="826.8" x2="632.8" y2="826.8" stroke-dasharray="14 3 2 3"/>
<line x1="484" y1="896.2" x2="560" y2="896.2"/>
<line x1="560" y1="896.2" x2="628.5" y2="896.2" stroke-dasharray="14 3 2 3"/>
<line x1="595.5" y1="740" x2="595.5" y2="928" stroke-dasharray="10 3"/>
<line x1="610.3" y1="740" x2="610.3" y2="1000" stroke-dasharray="10 3"/>
<line x1="650.1" y1="822" x2="650.1" y2="950" stroke-dasharray="14 3 2 3"/>
<line x1="650.1" y1="950" x2="650.1" y2="1000"/>
<line x1="548.5" y1="848" x2="548.5" y2="874"/>
<line x1="548.5" y1="880" x2="548.5" y2="1000"/>
</g>
<g stroke-width="0.85" stroke="#3a3a3a">
<line x1="578.4" y1="747.5" x2="627.1" y2="747.5"/>
<path d="M595.5 747.5L585.5 749.4Q583.7 747.5 585.5 745.6Z" fill="#111" stroke="#111" stroke-width="0.4"/>
<path d="M610.3 747.5L620.3 745.6Q622.1 747.5 620.3 749.4Z" fill="#111" stroke="#111" stroke-width="0.4"/>
<line x1="492" y1="826.8" x2="492" y2="896.2"/>
<path d="M492 826.8L493.9 836.8Q492 838.6 490.1 836.8Z" fill="#111" stroke="#111" stroke-width="0.4"/>
<path d="M492 896.2L490.1 886.2Q492 884.4 493.9 886.2Z" fill="#111" stroke="#111" stroke-width="0.4"/>
<line x1="548.5" y1="993.2" x2="649.8" y2="993.2"/>
<path d="M548.5 993.2L558.5 991.3Q560.3 993.2 558.5 995.1Z" fill="#111" stroke="#111" stroke-width="0.4"/>
<path d="M610.3 993.2L600.3 995.1Q598.5 993.2 600.3 991.3Z" fill="#111" stroke="#111" stroke-width="0.4"/>
<path d="M610.3 993.2L620.3 991.3Q622.1 993.2 620.3 995.1Z" fill="#111" stroke="#111" stroke-width="0.4"/>
<path d="M649.8 993.2L639.8 995.1Q638 993.2 639.8 991.3Z" fill="#111" stroke="#111" stroke-width="0.4"/>
<line x1="484" y1="790.8" x2="512.5" y2="790.8"/>
<line x1="512.5" y1="790.8" x2="553.8" y2="871.3"/>
</g>
<path d="M626.5 549.5L631.38 556.15L627.68 557.66Z" fill="#111" stroke="none"/>
<path d="M622.7 574.5L630.46 577.28L628.24 580.61Z" fill="#111" stroke="none"/>
<path d="M547.3 859.1L541.51 853.08L545.79 850.89Z" fill="#111" stroke="none"/>
<path d="M550.4 864L556.19 870.02L551.91 872.21Z" fill="#111" stroke="none"/>
</svg></body></html>
